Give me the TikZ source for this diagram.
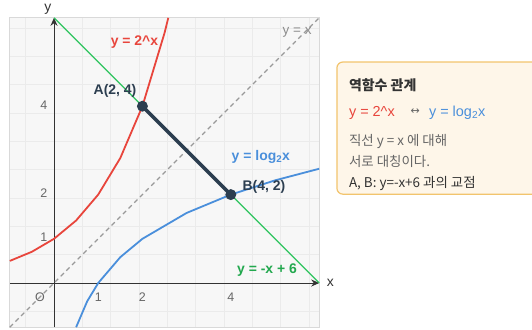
\documentclass[tikz,border=0pt]{standalone}
\usepackage{fontspec}
\setmainfont{Liberation Sans}
\newfontfamily\krfont{Noto Sans CJK KR}
\newfontfamily\symfont{DejaVu Sans}
\usetikzlibrary{arrows.meta}
\definecolor{expred}{HTML}{E8453C}
\definecolor{logblue}{HTML}{4A8FDB}
\definecolor{lingreen}{HTML}{2EC45E}
\definecolor{txtgreen}{HTML}{22A84E}
\definecolor{navy}{HTML}{2C3E50}
\definecolor{axisdark}{HTML}{333333}
\definecolor{tickgray}{HTML}{666666}
\definecolor{boxfill}{HTML}{FEF6E9}
\definecolor{boxline}{HTML}{F2C46D}
\begin{document}
\begin{tikzpicture}[x=44.2bp, y=44.2bp,
  ticklbl/.style={text=tickgray, font=\fontsize{12.5}{14}\selectfont},
  curvelbl/.style={font=\bfseries\fontsize{14}{16}\selectfont},
  boxtxt/.style={anchor=west, inner sep=0pt, font=\krfont\fontsize{13.5}{16}\selectfont}]
\useasboundingbox (-1.222,-1.041) rectangle (10.814,6.403);
% plot area
\fill[black!3] (-1,-1) rectangle (6,6);
\draw[black!8, line width=0.7bp] (-1,-1) grid (6,6);
\draw[black!15, line width=0.8bp] (-1,-1) rectangle (6,6);
% axes
\coordinate (xl) at (-1,0);
\coordinate (xr) at (6,0);
\coordinate (yb) at (0,-1);
\coordinate (yt) at (0,6);
\draw[axisdark, line width=1bp, -{Stealth[length=8bp, width=7bp]}] (xl) -- (xr);
\draw[axisdark, line width=1bp, -{Stealth[length=8bp, width=7bp]}] (yb) -- (yt);
\node (xname) [text=axisdark, font=\fontsize{14}{16}\selectfont] at (6.25,0) {x};
\node (yname) [text=axisdark, font=\fontsize{14}{16}\selectfont] at (-0.14,6.2) {y};
\node (origin) [ticklbl] at (-0.32,-0.32) {O};
\node (xone) [ticklbl] at (1,-0.32) {1};
\node (xtwo) [ticklbl] at (2,-0.32) {2};
\node (xfour) [ticklbl] at (4,-0.32) {4};
\node (yone) [ticklbl] at (-0.23,1.03) {1};
\node (ytwo) [ticklbl] at (-0.23,2.03) {2};
\node (yfour) [ticklbl] at (-0.23,4.03) {4};
% y = x
\coordinate (d1) at (-1,-1);
\coordinate (d2) at (6,6);
\draw[black!40, line width=1.1bp, dash pattern=on 4.5bp off 3.5bp] (d1) -- (d2);
\node (diaglbl) [text=black!45, font=\fontsize{13.5}{15}\selectfont] at (5.5,5.68) {y = x};
% curves
\draw[expred, line width=1.8bp] plot[samples at={-1,-0.5,0,0.5,1,1.5,2,2.5,2.585}] (\x,{2^\x});
\draw[logblue, line width=1.8bp] plot[samples at={0.5,0.75,1,1.5,2,3,4,5,6}] (\x,{ln(\x)/ln(2)});
% line y = -x + 6
\coordinate (g1) at (0,6);
\coordinate (g2) at (6,0);
\draw[lingreen, line width=1.3bp] (g1) -- (g2);
\node (A) [circle, fill=navy, inner sep=0pt, minimum size=11bp] at (2,4) {};
\node (B) [circle, fill=navy, inner sep=0pt, minimum size=11bp] at (4,2) {};
\draw[navy, line width=3.5bp] (A.center) -- (B.center);
\node (Alab) [curvelbl, text=navy] at (1.38,4.34) {A(2, 4)};
\node (Blab) [curvelbl, text=navy] at (4.75,2.18) {B(4, 2)};
\node (explab) [curvelbl, text=expred] at (1.82,5.45) {y = 2\textasciicircum x};
\node (loglab) [curvelbl, text=logblue] at (4.68,2.86) {y = log\textsubscript{2}x};
\node (linlab) [curvelbl, text=txtgreen] at (4.82,0.29) {y = -x + 6};
% note box
\draw[boxline, fill=boxfill, line width=1.2bp, rounded corners=6bp] (6.40,2.01) rectangle (11.2,5.0);
\node (title) [boxtxt, font=\krfont\bfseries\fontsize{14}{16}\selectfont, text=axisdark] at (6.67,4.48) {역함수 관계};
\node (rowexp) [boxtxt, text=expred, font=\fontsize{14.5}{16}\selectfont] at (6.67,3.85) {y = 2\textasciicircum x};
\node (rowarr) [text=tickgray, font=\symfont\fontsize{11}{12}\selectfont] at (8.17,3.87) {↔};
\node (rowlog) [boxtxt, text=logblue, font=\fontsize{14.5}{16}\selectfont] at (8.48,3.85) {y = log\textsubscript{2}x};
\node (note1) [boxtxt, text=tickgray] at (6.67,3.19) {직선 y = x 에 대해};
\node (note2) [boxtxt, text=tickgray] at (6.67,2.74) {서로 대칭이다.};
\node (note3) [boxtxt, text=axisdark] at (6.67,2.24) {A, B: y=-x+6 과의 교점};
\end{tikzpicture}
\end{document}
